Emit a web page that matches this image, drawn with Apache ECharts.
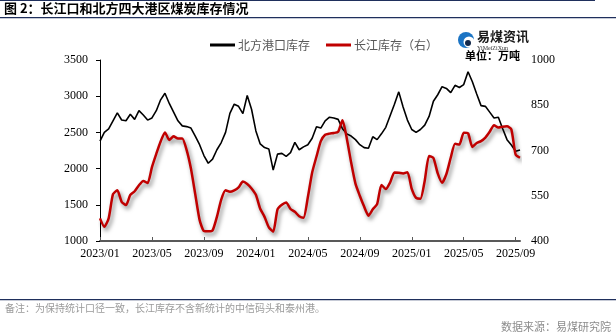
<!DOCTYPE html>
<html><head><meta charset="utf-8">
<script src="https://cdn.jsdelivr.net/npm/echarts@6/dist/echarts.min.js"></script>
<style>html,body{margin:0;padding:0;background:#fff}#c{width:616px;height:336px}</style>
</head><body><div id="c"></div>
<script>
// Dekad dates (1st, 11th, 21st of each month) from 2023-01-01 to 2025-09-11
const dates = [];
for (let y = 2023; y <= 2025; y++) {
  for (let m = 1; m <= 12; m++) {
    if (y === 2025 && m > 9) break;
    for (const d of [1, 11, 21]) {
      if (y === 2025 && m === 9 && d === 21) break;
      dates.push(y + '-' + String(m).padStart(2, '0') + '-' + String(d).padStart(2, '0'));
    }
  }
}
// 北方港口库存 (万吨, left axis)
const northStock = [
  2380,2500,2550,2660,2770,2671,2660,2750,2680,2800,2740,2670,
  2700,2800,2950,3040,2900,2780,2660,2590,2580,2560,2450,2330,
  2180,2074,2130,2260,2360,2500,2763,2890,2860,2760,3010,2820,
  2520,2340,2290,2270,1980,2200,2210,2170,2220,2363,2260,2300,
  2330,2420,2578,2560,2660,2710,2700,2680,2550,2480,2450,2400,
  2330,2290,2280,2440,2400,2480,2570,2730,2890,3060,2850,2670,
  2540,2500,2540,2600,2720,2930,3020,3131,3108,3050,3150,3120,
  3160,3338,3200,3030,2870,2860,2780,2700,2710,2550,2400,2326,
  2240,2257
];
// 长江库存 (万吨, right axis)
const yangtzeStock = [
  475,447,475,555,568,530,519,553,565,585,599,592,
  645,689,730,760,735,747,740,740,702,640,555,470,
  433,432,435,480,537,568,563,568,578,597,589,574,
  553,507,480,445,431,505,520,528,506,497,482,477,
  545,627,680,731,752,756,758,762,800,740,660,590,
  550,514,484,505,522,586,572,594,627,626,624,628,
  573,543,540,600,682,675,624,593,622,676,722,720,
  759,757,712,725,731,743,762,784,776,779,780,770,
  686,676
];
const leftTicks = [1000, 3500, 500];
const rightTicks = [400, 1000, 150];
const seriesNames = ['北方港口库存', '长江库存（右）'];

const chart = echarts.init(document.getElementById('c'));
const serif = '"Liberation Serif","Times New Roman",serif';
const cjk = '"Noto Sans CJK SC","Noto Sans",sans-serif';
const navy = '#1f2f5c';
chart.setOption({
  animation: false,
  backgroundColor: '#fff',
  grid: { left: 100, right: 96, top: 60, bottom: 95 },
  legend: {
    top: 34, left: 205, itemWidth: 25, itemHeight: 3, itemGap: 16,
    icon: 'rect',
    textStyle: { fontFamily: cjk, fontSize: 12, color: '#595959', padding: [0,0,0,-2] },
    data: seriesNames
  },
  xAxis: {
    type: 'category', data: dates, boundaryGap: false,
    axisLine: { lineStyle: { color: '#595959', width: 2 } },
    axisTick: { inside: true, length: 4, interval: (i) => i % 12 === 0, lineStyle: { color: '#595959' } },
    axisLabel: {
      interval: (i) => i % 12 === 0, margin: 7,
      fontFamily: serif, fontSize: 12, color: '#000',
      formatter: (v) => v.slice(0, 4) + '/' + v.slice(5, 7)
    },
    splitLine: { show: false }
  },
  yAxis: [
    { type: 'value', min: leftTicks[0], max: leftTicks[1], interval: leftTicks[2],
      axisLine: { show: true, lineStyle: { color: '#000', width: 1 } },
      axisTick: { show: true, length: 4, lineStyle: { color: '#000' } },
      axisLabel: { margin: 12, fontFamily: serif, fontSize: 12, color: '#000', formatter: (v) => String(v) },
      splitLine: { show: false } },
    { type: 'value', min: rightTicks[0], max: rightTicks[1], interval: rightTicks[2],
      axisLine: { show: false }, axisTick: { show: false },
      axisLabel: { margin: 11, fontFamily: serif, fontSize: 12, color: '#000', formatter: (v) => String(v) },
      splitLine: { show: false } }
  ],
  series: [
    { name: seriesNames[0], type: 'line', data: northStock, yAxisIndex: 0,
      showSymbol: false, symbol: 'none', color: '#000',
      lineStyle: { color: '#000', width: 1.6 } },
    { name: seriesNames[1], type: 'line', data: yangtzeStock, yAxisIndex: 1,
      showSymbol: false, symbol: 'none', color: '#c00000', smooth: 0.2,
      lineStyle: { color: '#c00000', width: 2.5, shadowColor: 'rgba(0,0,0,0.5)', shadowBlur: 4, shadowOffsetX: 2, shadowOffsetY: 3 } }
  ],
  graphic: [
    { type: 'rect', shape: { x: 0, y: 0, width: 595, height: 1 }, style: { fill: navy } },
    { type: 'text', left: 4, top: 2, style: { text: '图 2：长江口和北方四大港区煤炭库存情况', font: 'bold 13px ' + cjk, fill: '#000' } },
    { type: 'rect', shape: { x: 0, y: 17, width: 616, height: 1.2 }, style: { fill: navy } },
    // logo
    { type: 'circle', shape: { cx: 466, cy: 40, r: 8 }, style: { fill: '#1b74c4' } },
    { type: 'circle', shape: { cx: 469, cy: 42, r: 5.5 }, style: { fill: '#fff' } },
    { type: 'circle', shape: { cx: 468, cy: 43, r: 3 }, style: { fill: '#12284a' } },
    { type: 'text', left: 477, top: 30, style: { text: '易煤资讯', font: 'bold 13px ' + cjk, fill: '#1a1a1a' } },
    { type: 'text', left: 477, top: 45, style: { text: 'YiMeiZiXun', font: '6px ' + serif, fill: '#333' } },
    { type: 'text', right: 96, top: 50, style: { text: '单位：万吨', font: 'bold 11px ' + cjk, fill: '#000' } },
    // footer
    { type: 'rect', shape: { x: 0, y: 299, width: 616, height: 1.2 }, style: { fill: navy } },
    { type: 'text', left: 5, top: 303, style: { text: '备注：为保持统计口径一致，长江库存不含新统计的中信码头和泰州港。', font: '10px ' + cjk, fill: '#9a9a9a' } },
    { type: 'text', right: 5, top: 321, style: { text: '数据来源：易煤研究院', font: '11px ' + cjk, fill: '#8c8c8c' } }
  ]
});
</script></body></html>
